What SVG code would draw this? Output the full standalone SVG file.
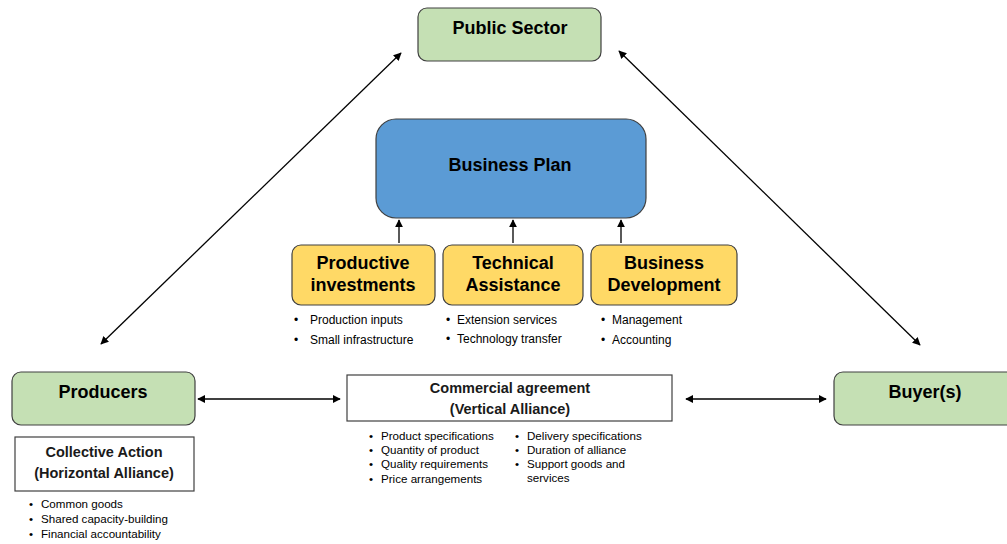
<svg xmlns="http://www.w3.org/2000/svg" width="1007" height="544" viewBox="0 0 1007 544">
<style>
.t{font-family:"Liberation Sans",Arial,sans-serif;fill:#000;text-anchor:middle}
.h{font-size:18px;font-weight:bold}
.m{font-size:14.5px;font-weight:bold;fill:#1a1a1a}
.b{font-family:"Liberation Sans",Arial,sans-serif;font-size:12px;fill:#000}
.s{font-family:"Liberation Sans",Arial,sans-serif;font-size:11.6px;fill:#000}
.g{fill:#c5e0b4;stroke:#404040;stroke-width:1.2}
.y{fill:#ffd966;stroke:#404040;stroke-width:1.2}
.w{fill:#fff;stroke:#404040;stroke-width:1.2}
.c{stroke:#000;stroke-width:1.3;fill:none;marker-start:url(#a);marker-end:url(#a)}
.u{stroke:#000;stroke-width:1.3;fill:none;marker-end:url(#a)}
</style>
<defs>
<marker id="a" viewBox="0 0 10 10" refX="9" refY="5" markerWidth="8" markerHeight="8" markerUnits="userSpaceOnUse" orient="auto-start-reverse">
<path d="M0,0 L10,5 L0,10 Z" fill="#000"/>
</marker>
</defs>
<rect width="1007" height="544" fill="#fff"/>
<g id="connectors">
<line class="c" x1="101" y1="344" x2="401" y2="53"/>
<line class="c" x1="619" y1="51" x2="920" y2="345"/>
<line class="c" x1="198" y1="399" x2="340" y2="399"/>
<line class="c" x1="686" y1="399" x2="826" y2="399"/>
<line class="u" x1="399" y1="243" x2="399" y2="220"/>
<line class="u" x1="513" y1="243" x2="513" y2="220"/>
<line class="u" x1="621" y1="243" x2="621" y2="220"/>
</g>
<g id="public-sector">
<rect class="g" x="418" y="8" width="183" height="53" rx="9"/>
<text class="t h" x="510" y="34">Public Sector</text>
</g>
<g id="business-plan">
<rect x="376" y="119" width="270" height="99" rx="20" fill="#5b9bd5" stroke="#404040" stroke-width="1.2"/>
<text class="t h" x="510" y="171">Business Plan</text>
</g>
<g id="productive-investments">
<rect class="y" x="292" y="245" width="143" height="60" rx="9"/>
<text class="t h" x="363" y="269">Productive</text>
<text class="t h" x="363" y="291">investments</text>
<text class="b" x="294" y="324">•</text><text class="b" x="310" y="324">Production inputs</text>
<text class="b" x="294" y="344">•</text><text class="b" x="310" y="344">Small infrastructure</text>
</g>
<g id="technical-assistance">
<rect class="y" x="443" y="245" width="140" height="60" rx="9"/>
<text class="t h" x="513" y="269">Technical</text>
<text class="t h" x="513" y="291">Assistance</text>
<text class="b" x="446" y="324">•</text><text class="b" x="457" y="324">Extension services</text>
<text class="b" x="446" y="343">•</text><text class="b" x="457" y="343">Technology transfer</text>
</g>
<g id="business-development">
<rect class="y" x="591" y="245" width="146" height="60" rx="9"/>
<text class="t h" x="664" y="269">Business</text>
<text class="t h" x="664" y="291">Development</text>
<text class="b" x="601" y="324">•</text><text class="b" x="612" y="324">Management</text>
<text class="b" x="601" y="344">•</text><text class="b" x="612" y="344">Accounting</text>
</g>
<g id="producers">
<rect class="g" x="12" y="372" width="183" height="53" rx="9"/>
<text class="t h" x="103" y="398">Producers</text>
</g>
<g id="collective-action">
<rect class="w" x="15" y="437" width="179" height="54"/>
<text class="t m" x="104" y="457">Collective Action</text>
<text class="t m" x="104" y="478">(Horizontal Alliance)</text>
<text class="s" x="29" y="508">•</text><text class="s" x="41" y="508">Common goods</text>
<text class="s" x="29" y="523">•</text><text class="s" x="41" y="523">Shared capacity-building</text>
<text class="s" x="29" y="538">•</text><text class="s" x="41" y="538">Financial accountability</text>
</g>
<g id="commercial-agreement">
<rect class="w" x="347" y="375" width="325" height="46"/>
<text class="t m" x="510" y="393">Commercial agreement</text>
<text class="t m" x="510" y="414">(Vertical Alliance)</text>
<text class="s" x="369" y="440">•</text><text class="s" x="381" y="440">Product specifications</text>
<text class="s" x="369" y="454">•</text><text class="s" x="381" y="454">Quantity of product</text>
<text class="s" x="369" y="468">•</text><text class="s" x="381" y="468">Quality requirements</text>
<text class="s" x="369" y="483">•</text><text class="s" x="381" y="483">Price arrangements</text>
<text class="s" x="515" y="440">•</text><text class="s" x="527" y="440">Delivery specifications</text>
<text class="s" x="515" y="454">•</text><text class="s" x="527" y="454">Duration of alliance</text>
<text class="s" x="515" y="468">•</text><text class="s" x="527" y="468">Support goods and</text>
<text class="s" x="527" y="482">services</text>
</g>
<g id="buyers">
<rect class="g" x="834" y="372" width="183" height="53" rx="9"/>
<text class="t h" x="925" y="398">Buyer(s)</text>
</g>
</svg>
